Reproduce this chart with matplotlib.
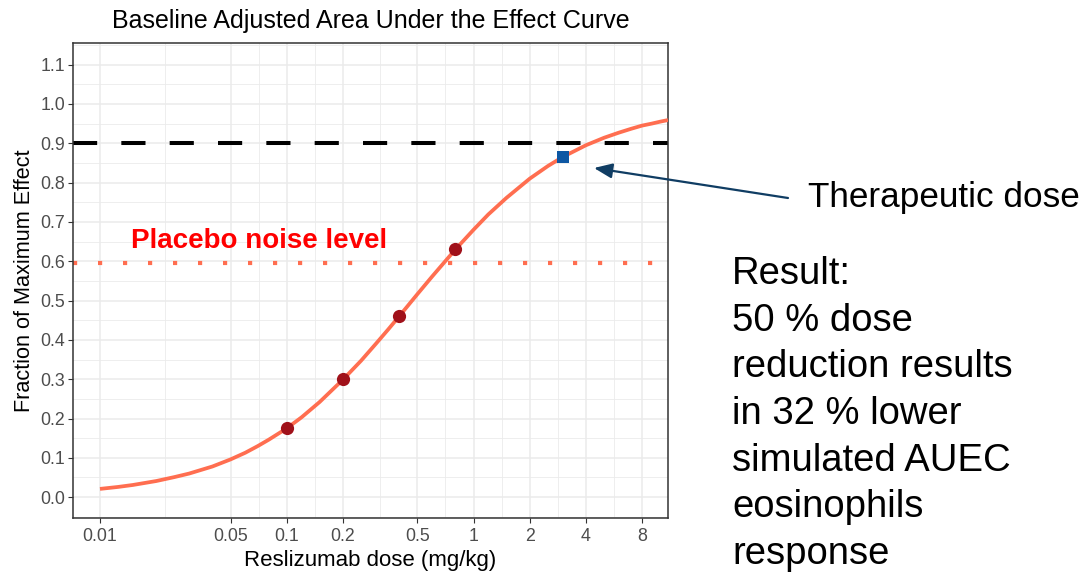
import numpy as np
import matplotlib
matplotlib.use('Agg')
from matplotlib import pyplot as plt

# model curve
curve_dose = [0.01, 0.0125, 0.015, 0.02, 0.025, 0.03, 0.04, 0.05, 0.06, 0.07, 0.08,
              0.1, 0.12, 0.15, 0.2, 0.25, 0.3, 0.35, 0.4, 0.5, 0.6, 0.7, 0.8,
              1.0, 1.2, 1.5, 2.0, 2.5, 3.0, 4.0, 5.0, 6.0, 7.0, 8.0, 9.0, 10.0, 11.0]
curve_effect = [0.021, 0.026, 0.031, 0.041, 0.051, 0.060, 0.078, 0.096, 0.113, 0.130, 0.146,
                0.175, 0.203, 0.242, 0.299, 0.347, 0.390, 0.427, 0.460, 0.516, 0.561, 0.598, 0.630,
                0.680, 0.719, 0.761, 0.810, 0.842, 0.865, 0.895, 0.914, 0.927, 0.937, 0.945, 0.950, 0.955, 0.959]

# studied doses
obs_dose = [0.1, 0.2, 0.4, 0.8]
obs_effect = [0.175, 0.300, 0.460, 0.630]

ther_dose = [3.0]
ther_effect = [0.865]

target_level = 0.9
placebo_level = 0.595

x_breaks = [0.01, 0.05, 0.1, 0.2, 0.5, 1, 2, 4, 8]
x_labels = ['0.01', '0.05', '0.1', '0.2', '0.5', '1', '2', '4', '8']
y_breaks = [round(0.1 * i, 1) for i in range(12)]

result_lines = ['Result:', '50 % dose', 'reduction results', 'in 32 % lower',
                'simulated AUEC', 'eosinophils', 'response']

plt.rcParams['font.family'] = ['Liberation Sans', 'DejaVu Sans']

fig = plt.figure(figsize=(10.85, 5.73), dpi=100)
ax = fig.add_axes([73 / 1085, 55 / 573, 595 / 1085, 475 / 573])

ax.set_xscale('log')
ax.set_xlim(0.00717, 11.0)
ax.set_ylim(-0.053, 1.155)

# ggplot-like grid: major + minor at log midpoints
lb = np.log10(x_breaks)
x_minor = 10 ** ((lb[:-1] + lb[1:]) / 2)
for v in x_minor:
    ax.axvline(v, color='#EBEBEB', lw=0.6, zorder=0)
for v in x_breaks:
    ax.axvline(v, color='#EBEBEB', lw=1.1, zorder=0)
for v in np.arange(-0.05, 1.2, 0.1):
    ax.axhline(v, color='#EBEBEB', lw=0.6, zorder=0)
for v in y_breaks:
    ax.axhline(v, color='#EBEBEB', lw=1.1, zorder=0)

ax.axhline(target_level, color='black', lw=2.9, dashes=(6, 6), dash_capstyle='butt', zorder=2)
ax.axhline(placebo_level, color='#FF6E50', lw=3.0, dashes=(1, 5), dash_capstyle='butt', zorder=2)

ax.plot(curve_dose, curve_effect, color='#FF6E50', lw=2.7, zorder=3, solid_capstyle='butt')
ax.plot(obs_dose, obs_effect, 'o', color='#A0111A', ms=9.5, mew=0, zorder=4)
ax.plot(ther_dose, ther_effect, 's', color='#0D57A3', ms=8.5, mew=0, zorder=4)

ax.text(0.0147, 0.652, 'Placebo noise level', color='#FF0000', fontsize=20,
        fontweight='bold', ha='left', va='center', zorder=5)

ax.set_xticks(x_breaks)
ax.set_xticklabels(x_labels)
ax.xaxis.set_minor_locator(matplotlib.ticker.NullLocator())
ax.set_yticks(y_breaks)
ax.set_yticklabels([f'{v:.1f}' for v in y_breaks])
ax.tick_params(axis='both', length=3.5, width=0.8, color='#333333',
               labelcolor='#4D4D4D', labelsize=12.8, pad=2)
ax.tick_params(axis='x', pad=4)
for s in ax.spines.values():
    s.set_color('#333333')
    s.set_linewidth(1.1)

ax.set_xlabel('Reslizumab dose (mg/kg)', fontsize=16, labelpad=3)
ax.set_ylabel('Fraction of Maximum Effect', fontsize=15.6, labelpad=4)
ax.set_title('Baseline Adjusted Area Under the Effect Curve', fontsize=18, pad=11)

# annotation to the right of the panel
fig.text(808 / 1085, 1 - 197 / 573, 'Therapeutic dose', fontsize=25.3, ha='left', va='center')
ax.annotate('', xy=(594 / 1085, 1 - 168 / 573), xycoords='figure fraction',
            xytext=(788 / 1085, 1 - 198 / 573), textcoords='figure fraction',
            arrowprops=dict(arrowstyle='-|>,head_length=1.1,head_width=0.45',
                            color='#103D63', lw=1.6, shrinkA=0, shrinkB=0),
            annotation_clip=False)
fig.text(732 / 1085, 1 - 256 / 573, '\n'.join(result_lines), fontsize=27.5,
         ha='left', va='top', linespacing=1.38)

fig.savefig('out.png', dpi=100)
